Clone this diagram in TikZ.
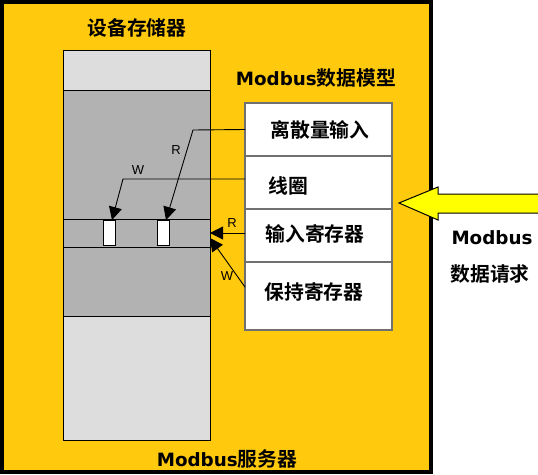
\documentclass[tikz,border=0pt]{standalone}
\usepackage{fontspec}
\setmainfont{Noto Sans CJK SC}[BoldFont={* Bold}]
\newfontfamily\latinfont{Liberation Sans}
\newfontfamily\latb{DejaVu Sans}[Scale=0.925]
\usetikzlibrary{arrows.meta,calc}
\definecolor{bgyellow}{HTML}{FFC90E}
\definecolor{lightgray}{HTML}{DDDDDD}
\definecolor{darkgray}{HTML}{B2B2B2}
\definecolor{arrowyellow}{HTML}{FFFF00}
\definecolor{rowline}{HTML}{707070}
\begin{document}
\begin{tikzpicture}[x=1pt,y=-1pt,
  memblock/.style={draw=black, line width=0.8pt, inner sep=0pt, outer sep=0pt, minimum width=147pt, anchor=north west},
  rowbox/.style={draw=rowline, line width=1.2pt, fill=white, inner sep=0pt, outer sep=0pt, minimum width=147pt, anchor=north west},
  cellbox/.style={draw=black, line width=0.8pt, fill=white, inner sep=0pt, outer sep=0pt, minimum width=12pt, minimum height=25pt, anchor=north west},
  lbl/.style={font=\bfseries\fontsize{19.8}{21}\selectfont, inner sep=0pt},
  small/.style={font=\latinfont\fontsize{13}{14}\selectfont, inner sep=0pt},
  conn/.style={draw=black, line width=0.9pt, -{Triangle[length=13pt,width=13pt]}}
]
\useasboundingbox (0,0) rectangle (538,474);
% outer server box
\draw[line width=4pt, fill=bgyellow] (2,2) rectangle (431,472);
% device memory
\node[memblock, fill=lightgray, minimum height=40pt] (mem1) at (63,50) {};
\node[memblock, fill=darkgray, minimum height=129pt] (mem2) at (63,90) {};
\node[memblock, fill=darkgray, minimum height=28pt] (mem3) at (63,219) {};
\node[memblock, fill=darkgray, minimum height=69pt] (mem4) at (63,247) {};
\node[memblock, fill=lightgray, minimum height=124pt] (mem5) at (63,316) {};
\node[cellbox] (cell1) at (103,220) {};
\node[cellbox] (cell2) at (157,220) {};
% data model table
\node[rowbox, minimum height=53pt] (row1) at (245,103) {};
\node[rowbox, minimum height=53pt] (row2) at (245,156) {};
\node[rowbox, minimum height=53pt] (row3) at (245,209) {};
\node[rowbox, minimum height=68pt] (row4) at (245,262) {};
\node[lbl] (t1) at (320,130) {离散量输入};
\node[lbl, anchor=west] (t2) at (268,186) {线圈};
\node[lbl] (t3) at (315,234) {输入寄存器};
\node[lbl] (t4) at (314,292) {保持寄存器};
% connectors
\coordinate (b1) at (193,130);
\coordinate (b2) at (123,179);
\draw[conn] (row1.west) -- (b1) -- ([xshift=3pt]cell2.north);
\draw[conn] ([yshift=3.5pt]row2.west) -- (b2) -- ([xshift=3pt]cell1.north);
\draw[conn] ([yshift=2.5pt]row3.west) -- (mem3.east |- {0,233});
\draw[conn] ([yshift=9pt]row4.west) -- ([yshift=-5pt]mem3.east);
\node[small] (r1) at (176,150) {R};
\node[small] (w1) at (138,170) {W};
\node[small] (r2) at (232,223) {R};
\node[small] (w2) at (227,276) {W};
% request arrow
\draw[line width=1pt, fill=arrowyellow] (399,203) -- (438,187) -- (438,194) -- (545,194) -- (545,213) -- (438,213) -- (438,220) -- cycle;
% titles
\node[lbl] (mtitle) at (137,28) {设备存储器};
\node[lbl] (dtitle) at (316,78) {{\latb Modbus}数据模型};
\node[lbl] (stitle) at (227,459) {{\latb Modbus}服务器};
\node[lbl] (req1) at (492,238) {{\latb Modbus}};
\node[lbl] (req2) at (490,274) {数据请求};
\end{tikzpicture}
\end{document}
